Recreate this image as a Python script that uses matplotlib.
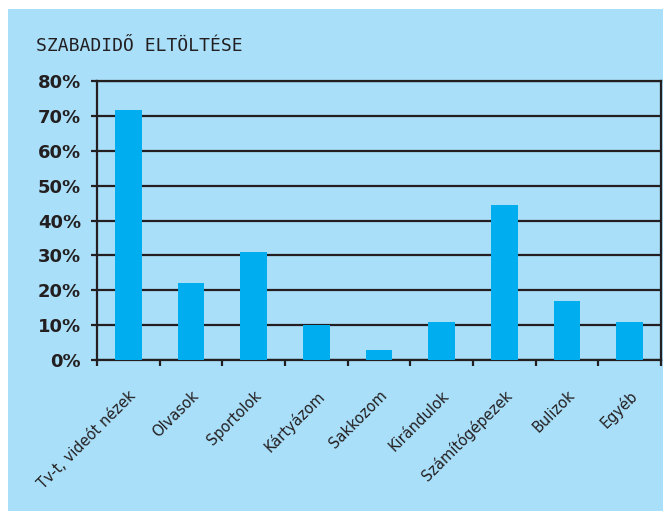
import matplotlib

matplotlib.use("Agg")
import matplotlib.pyplot as plt  # noqa: E402
import numpy as np  # noqa: E402
from matplotlib.patches import Rectangle  # noqa: E402
from matplotlib.ticker import FixedLocator  # noqa: E402

# adatok (%)
categories = [
    "Tv-t, videót nézek",
    "Olvasok",
    "Sportolok",
    "Kártyázom",
    "Sakkozom",
    "Kirándulok",
    "Számítógépezek",
    "Bulizok",
    "Egyéb",
]
values = [71.6, 22, 31, 10, 3, 11, 44.5, 17, 11]
y_ticks = [0, 10, 20, 30, 40, 50, 60, 70, 80]
title = "SZABADIDŐ ELTÖLTÉSE"

BG = "#a9dff9"
BAR = "#00adee"
INK = "#231f20"

W, H = 663, 518
fig = plt.figure(figsize=(W / 100, H / 100), dpi=100, facecolor="white")

# világoskék háttérlap
fig.add_artist(
    Rectangle((8 / W, 1 - 511 / H), 1 - 8 / W, (511 - 9) / H,
              transform=fig.transFigure, facecolor=BG, edgecolor="none",
              zorder=-10)
)

ax = fig.add_axes([97 / W, 1 - 360 / H, (661 - 97) / W, (360 - 81) / H])
ax.set_facecolor(BG)

x = np.arange(len(categories))
ax.bar(x, values, width=0.43, color=BAR, zorder=3)

ax.set_xlim(-0.5, len(categories) - 0.5)
ax.set_ylim(0, 80)

# vízszintes rácsvonalak
ax.set_yticks(y_ticks)
ax.set_yticklabels([f"{v}%" for v in y_ticks])
ax.yaxis.grid(True, color=INK, linewidth=1.6)
ax.set_axisbelow(True)

for side in ["left", "right", "top", "bottom"]:
    ax.spines[side].set_color(INK)
    ax.spines[side].set_linewidth(1.6)

# x tengely: kategórianevek középen, osztásjelek a határokon
ax.set_xticks(x)
ax.set_xticklabels(categories, rotation=45, ha="right", va="top",
                   rotation_mode="anchor", fontsize=10.5, color=INK)
ax.xaxis.set_minor_locator(FixedLocator(np.arange(-0.5, len(categories), 1.0)))
ax.tick_params(axis="x", which="major", length=0, pad=20)
ax.tick_params(axis="x", which="minor", length=4, width=1.6, color=INK)
ax.tick_params(axis="y", length=4.5, width=1.6, color=INK, pad=7,
               labelsize=13, labelcolor=INK)
for lbl in ax.get_yticklabels():
    lbl.set_fontweight("bold")

fig.text(36 / W, 1 - 51 / H, title, family="DejaVu Sans Mono", fontsize=13,
         color=INK, va="baseline", ha="left")

fig.savefig("out.png", dpi=100, facecolor="white")
